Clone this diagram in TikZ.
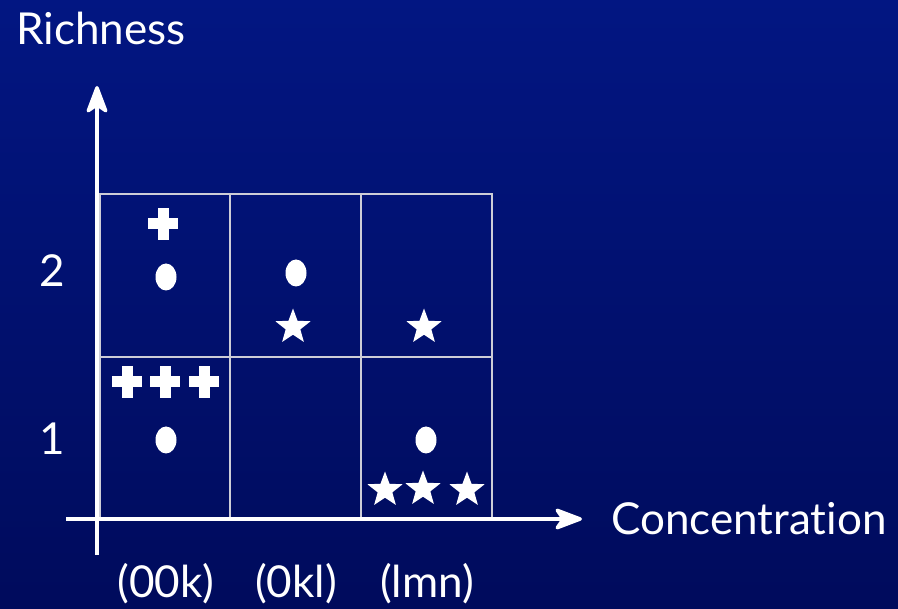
\documentclass[tikz,border=0pt]{standalone}
\usepackage{fontspec}
\setmainfont{Lato}[Ligatures=CommonOff]
\usetikzlibrary{arrows.meta,shapes.geometric}
\definecolor{bgtop}{RGB}{2,22,130}
\definecolor{bgbot}{RGB}{0,11,92}
\definecolor{gridc}{RGB}{205,205,215}
\tikzset{
  gridline/.style={draw=gridc, line width=2.6pt},
  axisline/.style={draw=white, line width=3.4pt, -{Stealth[length=32pt,width=24pt,inset=8pt,round]}},
  lbl/.style={text=white, font=\fontsize{44}{48}\selectfont, inner sep=0pt},
  dotmark/.style={fill=white, ellipse, minimum width=21pt, minimum height=27pt, inner sep=0pt},
  starmark/.style={fill=white, star, star points=5, star point ratio=2.4, minimum size=37pt, inner sep=0pt},
  plusmark/.pic={\fill[white] (-15,-5.5) rectangle (15,5.5); \fill[white] (-5.5,-16) rectangle (5.5,16);}
}
\begin{document}
\begin{tikzpicture}[x=1pt,y=-1pt]
\useasboundingbox (0,0) rectangle (898,609);
\fill[top color=bgtop, bottom color=bgbot] (0,0) rectangle (898,609);
% grid cells
\foreach \xa/\xb in {100/230,230/361,361/492}{
  \foreach \ya/\yb in {194/357,357/519}{
    \draw[gridline] (\xa,\ya) rectangle (\xb,\yb);
  }
}
% axes
\coordinate (yb) at (97,555);
\coordinate (yt) at (97,86);
\coordinate (xl) at (66,519);
\coordinate (xr) at (582,519);
\draw[axisline] (yb) -- (yt);
\draw[axisline] (xl) -- (xr);
% labels
\node[lbl, anchor=base west] (rich) at (16,45) {Richness};
\node[lbl, anchor=west] (conc) at (611,519) {Concentration};
\node[lbl, anchor=base] (two) at (52,287) {2};
\node[lbl, anchor=base] (one) at (52,455) {1};
\node[lbl, anchor=base] (c1) at (166,598) {(00k)};
\node[lbl, anchor=base] (c2) at (296,598) {(0kl)};
\node[lbl, anchor=base] (c3) at (427,598) {(lmn)};
% marks
\pic at (163,224) {plusmark};
\pic at (127,382) {plusmark};
\pic at (165,382) {plusmark};
\pic at (204,382) {plusmark};
\node[dotmark] (d1) at (166,277) {};
\node[dotmark] (d2) at (296,273) {};
\node[dotmark] (d3) at (166,440) {};
\node[dotmark] (d4) at (426,440) {};
\node[starmark] (s1) at (293,327) {};
\node[starmark] (s2) at (424,327) {};
\node[starmark] (s3) at (385,490) {};
\node[starmark] (s4) at (423,489) {};
\node[starmark] (s5) at (467,490) {};
\end{tikzpicture}
\end{document}
